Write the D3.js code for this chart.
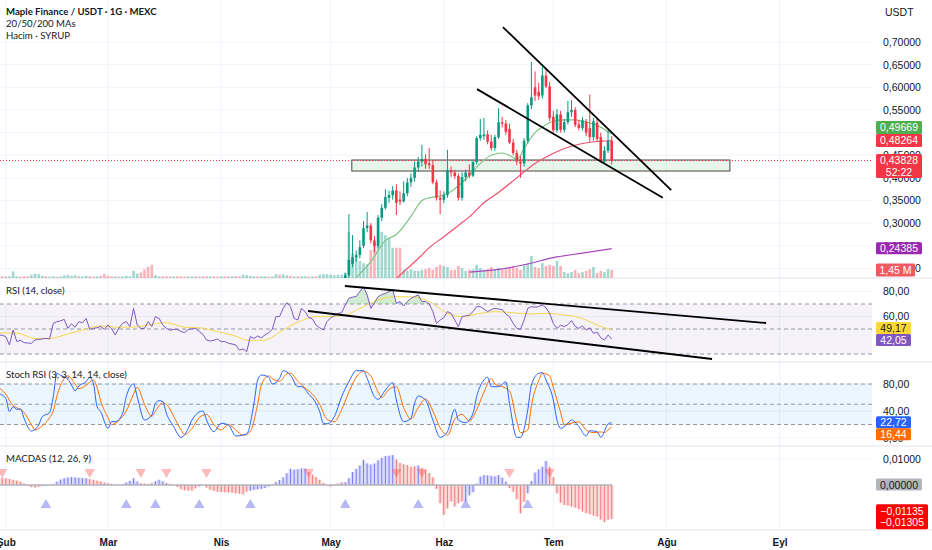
<!DOCTYPE html>
<html>
<head>
<meta charset="utf-8">
<script src="https://cdn.jsdelivr.net/npm/d3@7"></script>
<style>
  body { margin: 0; background: #fff; }
  svg { display: block; font-family: Lato, "Liberation Sans", sans-serif; }
</style>
</head>
<body>
<svg id="chart" width="932" height="550"></svg>
<script>
// Dias contados a partir de 1 Şubat 2025
var firstDay = Date.UTC(2025, 1, 1);

// Velas diárias, a partir do dia 93 (5 May)
var candleStart = 93;
var candleOpen  = [0.170,0.185,0.210,0.225,0.230,0.250,0.289,0.295,0.262,0.250,0.312,0.334,0.356,0.362,0.372,0.352,0.348,0.366,0.390,0.400,
                   0.423,0.436,0.442,0.432,0.428,0.390,0.356,0.352,0.362,0.417,0.412,0.404,0.356,0.402,0.412,0.405,0.435,0.488,0.492,0.496,
                   0.480,0.466,0.490,0.523,0.520,0.508,0.478,0.455,0.436,0.432,0.482,0.560,0.600,0.590,0.582,0.626,0.602,0.535,0.505,0.540,
                   0.506,0.523,0.545,0.550,0.518,0.510,0.524,0.510,0.490,0.522,0.490,0.436,0.460,0.482];
var candleHigh  = [0.190,0.320,0.274,0.240,0.262,0.305,0.325,0.300,0.272,0.318,0.342,0.375,0.372,0.382,0.386,0.370,0.392,0.400,0.410,0.436,
                   0.446,0.473,0.452,0.466,0.440,0.396,0.372,0.370,0.462,0.425,0.418,0.410,0.412,0.418,0.430,0.440,0.492,0.530,0.532,0.505,
                   0.495,0.495,0.554,0.535,0.528,0.520,0.486,0.462,0.448,0.488,0.565,0.656,0.635,0.610,0.645,0.640,0.612,0.548,0.552,0.548,
                   0.530,0.570,0.572,0.556,0.528,0.534,0.530,0.584,0.532,0.530,0.500,0.470,0.505,0.492];
var candleLow   = [0.165,0.180,0.203,0.215,0.222,0.245,0.280,0.255,0.235,0.245,0.305,0.330,0.345,0.352,0.318,0.340,0.346,0.360,0.380,0.392,
                   0.414,0.425,0.420,0.420,0.386,0.350,0.320,0.344,0.356,0.402,0.398,0.350,0.350,0.392,0.400,0.402,0.430,0.482,0.484,0.474,
                   0.460,0.460,0.486,0.512,0.495,0.475,0.450,0.428,0.400,0.425,0.476,0.552,0.570,0.572,0.575,0.598,0.525,0.500,0.500,0.500,
                   0.500,0.518,0.535,0.512,0.505,0.505,0.492,0.480,0.482,0.480,0.434,0.432,0.455,0.430];
var candleClose = [0.185,0.219,0.225,0.230,0.247,0.289,0.295,0.262,0.250,0.312,0.334,0.358,0.362,0.372,0.345,0.348,0.366,0.390,0.400,0.423,
                   0.436,0.442,0.430,0.428,0.390,0.356,0.352,0.362,0.417,0.412,0.404,0.356,0.402,0.412,0.405,0.435,0.488,0.495,0.496,0.480,
                   0.466,0.490,0.523,0.520,0.502,0.478,0.455,0.436,0.432,0.482,0.560,0.578,0.582,0.580,0.626,0.602,0.532,0.505,0.540,0.506,
                   0.523,0.545,0.550,0.517,0.510,0.527,0.500,0.490,0.525,0.486,0.436,0.460,0.482,0.438];

// Volume (milhões), do dia -1 até o dia 166
var volumeStart = -1;
var volume = [0.3,0.25,0.3,1.2,0.3,0.25,0.3,0.3,0.6,0.8, 0.7,0.4,0.3,0.25,0.3,0.2,0.3,0.5,0.6,0.4,
              0.5,0.3,0.3,0.4,0.3,0.25,0.3,0.4,0.7,0.4, 0.3,0.3,0.25,0.3,0.4,0.3,1.3,0.8,1.0,1.6,
              2.0,2.4,0.5,0.3,0.3,0.3,0.25,0.3,0.3,0.3, 0.25,0.3,0.3,0.3,0.25,0.3,0.3,0.3,0.3,0.25,
              0.3,0.3,0.3,0.3,0.35,0.3,0.6,0.5,0.4,0.3, 0.3,0.3,0.3,0.25,0.3,0.7,0.6,0.7,0.5,0.4,
              0.3,0.3,0.3,0.3,0.25,0.3,0.3,0.6,0.7,0.7, 0.6,0.5,0.6,0.6,
              1.0,8.4,4.5,4.0,3.1,2.7,2.5,5.1,6.4,8.7, 8.4,7.8,7.3,5.5,5.5,5.5,1.5,1.3,1.6,1.3,
              1.3,1.5,1.6,1.8,1.5,2.0,2.4,2.2,2.0,1.5, 1.5,2.2,1.8,1.3,1.5,1.6,2.4,1.8,1.5,1.6,
              2.0,1.5,1.8,1.5,1.6,2.0,2.2,1.8,1.5,2.5, 2.7,4.0,2.0,1.8,2.7,2.2,2.4,2.2,3.1,2.2,
              1.1,0.9,1.1,1.5,0.9,1.1,1.3,1.6,2.0,0.9, 1.3,1.1,1.6,1.45];
// Direção do volume antes das velas visíveis (1 = alta)
var volumeUpEarly = [0,0,1,1,1,0,0,0,1,1, 1,1,0,1,1,0,1,1,1,1, 1,0,1,1,0,0,1,0,0,0,
                     0,1,0,1,1,1,1,1,0,0, 0,0,1,1,0,0,0,1,0,0, 0,1,1,0,1,0,0,1,0,0,
                     1,0,0,1,0,0,1,1,1,1, 0,1,1,0,1,1,0,1,1,0, 1,0,1,1,0,1,0,1,1,1,
                     1,1,1,1];

// Médias móveis [dia, preço]
var ma20  = [[96,0.18],[100,0.215],[104,0.262],[107,0.275],[111,0.315],[114,0.35],[116,0.356],[119,0.36],[122,0.37],[125,0.39],
             [127,0.405],[130,0.432],[133,0.45],[136,0.455],[139,0.445],[140,0.44],[142,0.465],[145,0.50],[147,0.512],[150,0.525],
             [153,0.528],[156,0.528],[159,0.523],[162,0.516],[164,0.507],[166,0.4967]];
var ma50  = [[107,0.178],[110,0.2],[113,0.222],[116,0.246],[120,0.27],[124,0.295],[127,0.314],[131,0.345],[135,0.368],[140,0.40],
             [145,0.432],[149,0.45],[153,0.465],[158,0.476],[163,0.481],[166,0.4826]];
var ma200 = [[127,0.192],[135,0.198],[143,0.210],[150,0.224],[158,0.234],[166,0.2439]];

// RSI e sua média [dia, valor]
var rsi = [[-2,45.2],[-1,45],[0,43.9],[1,37.2],[2,49.2],[3,40],[4,41],[5,39.1],[6,38.8],[7,38.5],[8,41.2],[9,41.7],[10,42],[11,42.5],[12,42],
           [13,54.5],[14,55.9],[15,56.5],[16,57.7],[17,50.5],[18,54.1],[19,51.4],[20,55.9],[21,55],[22,58.5],[23,49.7],[24,50.5],[25,51],
           [26,52],[27,49.7],[28,53.2],[29,50],[30,45.2],[31,51],[32,54.5],[33,55.9],[34,52],[35,66.5],[36,53.2],[37,50.5],[38,50.5],
           [39,55.9],[40,52],[41,59.9],[42,58.5],[43,53.2],[44,50.5],[45,49],[46,49.7],[47,49.7],[48,48],[49,47.1],[50,49.7],[51,50],
           [52,50.5],[53,48],[54,45.7],[55,41.2],[56,40.4],[57,41],[58,42],[59,39.9],[60,40],[61,38.5],[62,38],[63,37.2],[64,33.2],
           [65,34],[66,31.9],[67,43.9],[68,42.5],[69,44.4],[70,43],[71,45.2],[72,47],[73,49.7],[74,59.9],[75,60],[76,66.5],[77,71.1],
           [78,67.9],[79,58.5],[80,57.2],[81,66.5],[82,63.9],[83,59.3],[84,58],[85,53.2],[86,51],[87,49.2],[88,55.9],[89,59],[90,60.5],
           [91,62.5],[92,63],[93,69.2],[94,74.5],[95,75.5],[96,76],[97,80],[98,83.9],[99,77.2],[100,66.5],[101,71],[102,75.9],[103,77.5],
           [104,78.5],[105,79.9],[106,81.2],[107,70.5],[108,72],[109,68.4],[110,72],[111,74.5],[112,76],[113,77.2],[114,71.9],[115,72],
           [116,70],[117,63.9],[118,54.5],[119,57.2],[120,59],[121,63.9],[122,62.5],[123,57.2],[124,51.9],[125,59.9],[126,60.5],[127,61.2],
           [128,63.9],[129,67.9],[130,67.9],[131,66],[132,63.9],[133,65.5],[134,66.5],[135,66],[136,65.5],[137,62],[138,59.9],[139,54.5],
           [140,50.5],[141,49.7],[142,57.2],[143,66.5],[144,67.9],[145,67.5],[146,67.9],[147,69.2],[148,67],[149,62.5],[150,54.5],[151,50.5],
           [152,53],[153,51.9],[154,53.5],[155,56.7],[156,52],[157,50.5],[158,52.5],[159,49.2],[160,51],[161,46.5],[162,47.5],[163,43],
           [164,41.2],[165,45.2],[166,42.05]];
var rsiMa = [[-2,46.8],[3,46.8],[8,42.5],[12,42.5],[17,46],[21,49.2],[26,52.4],[30,51.5],[35,51.5],[39,53.2],[44,55.1],[49,51.4],
             [53,51],[58,47.9],[62,45.2],[67,40.7],[71,41.2],[76,49.2],[81,56.7],[85,59.9],[89,60],[93,61.2],[98,67.9],[102,73.2],
             [107,75.9],[112,75.5],[116,71.9],[121,62.5],[125,59.9],[130,62.5],[134,63.9],[139,63],[144,62],[148,62.5],[153,61.2],
             [157,59.3],[162,53.2],[166,49.17]];

// Stoch RSI %K e %D [dia, valor]
var stochK = [[-2,66],[0,58.8],[1,39],[2,46.4],[3,42.5],[4,43],[5,29],[7,10.4],[9,19.3],[10,31.6],[12,37.6],[13,61.2],[14,95.8],[15,93],
              [17,87],[18,78.5],[19,70],[20,77],[22,83.4],[23,89.9],[24,81],[25,46.4],[26,39],[28,14.3],[29,24.2],[30,24.2],[32,36.6],
              [33,61.2],[35,80],[36,61.2],[38,26.7],[40,34],[41,51.4],[42,55.3],[43,54],[44,36.6],[46,16.8],[48,1],[50,14.3],[51,26.7],
              [54,40],[55,26.7],[57,9.4],[59,21.8],[61,19.3],[63,3],[66,6],[68,51.4],[69,86],[70,93.3],[72,90],[73,80],[75,88.4],
              [76,99.7],[78,93],[80,76],[81,76],[83,65],[85,51.4],[86,39],[87,21.8],[88,21],[90,31.6],[92,61.2],[94,83.4],[96,99.7],
              [98,99.7],[99,88.4],[101,61.2],[102,57.3],[104,71.1],[106,82],[107,56.3],[109,24.2],[111,29.1],[112,51.4],[113,62.2],
              [115,56],[117,26.7],[119,1],[121,9.4],[123,42.5],[124,26.7],[126,22.7],[128,36.6],[129,61.2],[131,86],[132,90],[133,76],
              [135,76],[137,83.4],[138,51.4],[140,1],[141,1],[143,41.5],[144,78.5],[146,95.8],[147,96.7],[148,86],[150,56.3],[151,26.7],
              [152,14.3],[154,21.8],[155,26.7],[157,16.8],[159,3],[160,10.8],[162,9.4],[163,1],[165,20.7],[166,22.72]];
var stochD = [[-2,75],[0,65],[2,48],[3,45],[5,38],[7,20],[8,12],[10,18],[12,30],[13,40],[14,62],[16,88],[17,92],[19,80],[20,73],
              [22,78],[24,86],[25,75],[26,55],[28,30],[29,20],[31,26],[33,40],[35,65],[36,75],[38,50],[40,32],[41,40],[43,52],[44,50],
              [46,32],[48,12],[49,5],[51,14],[53,30],[55,35],[57,20],[59,12],[61,20],[63,12],[65,4],[67,10],[69,50],[70,78],[72,92],
              [73,88],[75,84],[77,95],[78,96],[80,84],[82,74],[84,65],[86,50],[88,28],[90,24],[92,42],[94,68],[96,90],[98,99],[100,92],
              [102,68],[103,60],[105,72],[107,76],[109,45],[111,28],[113,45],[115,58],[117,40],[119,15],[121,4],[123,28],[125,35],
              [127,25],[129,42],[131,68],[133,88],[134,80],[136,76],[138,70],[140,25],[141,8],[143,12],[144,48],[146,85],[147,96],
              [149,92],[150,75],[152,38],[153,20],[155,22],[157,24],[159,12],[161,8],[163,9],[164,8],[165,12],[166,16.44]];

// MACDAS histograma diário, do dia -1 até o dia 166
var macdasStart = -1;
var macdas = [0.0028,0.0026,0.0023,0.0020,0.0017,0.0013,0.0006,-0.0003,-0.0008,-0.0010,
              -0.0007,-0.0005,-0.0003,-0.0001,0.0003,0.0013,0.0021,0.0026,0.0029,0.0030,
              0.0029,0.0028,0.0027,0.0026,0.0023,0.0020,0.0017,0.0014,0.0010,0.0007,
              0.0004,0.0001,-0.0001,0.0004,0.0010,0.0016,0.0026,0.0014,0.0007,0.0005,
              0.0004,0.0008,0.0015,0.0020,0.0014,0.0008,0.0004,0.0000,-0.0008,-0.0016,
              -0.0020,-0.0022,-0.0021,-0.0013,-0.0006,0.0000,-0.0010,-0.0018,-0.0023,-0.0026,
              -0.0027,-0.0028,-0.0029,-0.0030,-0.0032,-0.0034,-0.0036,-0.0026,-0.0022,-0.0019,
              -0.0017,-0.0015,-0.0012,-0.0006,0.0003,0.0012,0.0019,0.0030,0.0045,0.0062,
              0.0059,0.0061,0.0064,0.0063,0.0050,0.0040,0.0031,0.0020,0.0008,-0.0002,
              -0.0006,0.0002,0.0006,0.0010,0.0011,0.0026,0.0050,0.0062,0.0075,0.0096,
              0.0083,0.0079,0.0083,0.0095,0.0104,0.0111,0.0113,0.0115,0.0098,0.0085,
              0.0080,0.0077,0.0070,0.0072,0.0075,0.0066,0.0058,0.0046,0.0030,-0.0015,
              -0.0070,-0.0115,-0.0090,-0.0064,-0.0083,-0.0070,-0.0064,-0.0062,-0.0040,-0.0028,
              0.0005,0.0032,0.0038,0.0037,0.0035,0.0033,0.0038,0.0028,0.0013,-0.0012,
              -0.0026,-0.0055,-0.0109,-0.0065,-0.0032,0.0015,0.0048,0.0060,0.0070,0.0092,
              0.0070,0.0030,-0.0032,-0.0068,-0.0077,-0.0079,-0.0083,-0.0087,-0.0093,-0.0102,
              -0.0108,-0.0113,-0.0118,-0.0122,-0.0133,-0.0143,-0.0134,-0.01305];
var macdasSell = [-1, 23, 37, 44, 55, 83, 107, 114, 138, 149];
var macdasBuy  = [11, 33, 41, 53, 67, 93, 113, 126, 143];

// Desenhos do usuário [dia, valor]
var priceLines = [[[136.2, 0.733], [182.3, 0.373]], [[129.1, 0.596], [180.0, 0.356]]];
var zoneDays = [94.8, 198.4];
var zonePrices = [0.4152, 0.4395];
var rsiLines = [[[92.9, 84.4], [208.3, 54.8]], [[82.8, 64.4], [193.5, 26.0]]];

// Rótulos e valores do eixo
var monthNames = ["Oca", "Şub", "Mar", "Nis", "May", "Haz", "Tem", "Ağu", "Eyl", "Eki", "Kas", "Ara"];
var priceTicks = [0.20, 0.25, 0.30, 0.35, 0.40, 0.45, 0.50, 0.55, 0.60, 0.65, 0.70];
var rsiTicks = [80, 60];
var stochTicks = [80, 40, 0];
var macdTicks = [0.01];
var lastPrice = 0.43828, countdown = "52:22";
var lastMa20 = 0.49669, lastMa50 = 0.48264, lastMa200 = 0.24385, lastVolume = 1.45;
var lastRsiMa = 49.17, lastRsi = 42.05, lastK = 22.72, lastD = 16.44;
var lastMacdas = -0.01305, lastSignal = -0.01135;

// ---------------------------------------------------------------

var svg = d3.select("#chart");
var plotRight = 872;
var tr = d3.formatLocale({ decimal: ",", thousands: ".", grouping: [3], currency: ["", ""], minus: "\u2212" });
var f5 = tr.format(".5f"), f2 = tr.format(".2f");

function dayDate(d) { return new Date(firstDay + d * 864e5); }

var x = d3.scaleUtc().domain([dayDate(0), dayDate(212)]).range([5.8, 5.8 + 212 * 3.65]);
var xd = function (d) { return x(dayDate(d)); };

var yPrice = d3.scaleLinear().domain([0.20, 0.70]).range([268.5, 42]);
var yVol = d3.scaleLinear().domain([0, 10]).range([278, 223]);
var yRsi = d3.scaleLinear().domain([30, 70]).range([354, 304]);
var yStoch = d3.scaleLinear().domain([20, 80]).range([424.5, 384]);
var yMacd = d3.scaleLinear().domain([-0.01, 0.01]).range([511, 459]);

var panes = [
  { id: "p-price", top: 0, bottom: 278 },
  { id: "p-rsi", top: 278, bottom: 362 },
  { id: "p-stoch", top: 362, bottom: 446 },
  { id: "p-macd", top: 446, bottom: 530 }
];

var defs = svg.append("defs");
panes.forEach(function (p) {
  defs.append("clipPath").attr("id", p.id)
    .append("rect").attr("x", 0).attr("y", p.top).attr("width", plotRight).attr("height", p.bottom - p.top);
});

// Grade vertical dos meses
var months = x.ticks(d3.utcMonth.every(1));
svg.append("g").selectAll("line").data(months).enter().append("line")
  .attr("x1", function (m) { return x(m); }).attr("x2", function (m) { return x(m); })
  .attr("y1", 0).attr("y2", 530).attr("stroke", "#f0f3fa");

// Grade horizontal
function hGrid(ticks, scale, clip) {
  svg.append("g").attr("clip-path", "url(#" + clip + ")").selectAll("line").data(ticks).enter().append("line")
    .attr("x1", 0).attr("x2", plotRight)
    .attr("y1", function (t) { return scale(t); }).attr("y2", function (t) { return scale(t); })
    .attr("stroke", "#f0f3fa");
}
hGrid(priceTicks, yPrice, "p-price");
hGrid(rsiTicks, yRsi, "p-rsi");
hGrid(stochTicks, yStoch, "p-stoch");
hGrid(macdTicks, yMacd, "p-macd");

// Separadores dos painéis
svg.append("g").selectAll("line").data([278, 362, 446, 530]).enter().append("line")
  .attr("x1", 0).attr("x2", 932).attr("y1", function (d) { return d; }).attr("y2", function (d) { return d; })
  .attr("stroke", "#e0e3eb");

// ---------- Painel de preço ----------
var gp = svg.append("g").attr("clip-path", "url(#p-price)");

// Volume
var volData = volume.map(function (v, i) {
  var d = volumeStart + i, up;
  if (d < candleStart) up = volumeUpEarly[i] === 1;
  else { var c = d - candleStart; up = candleClose[c] >= candleOpen[c]; }
  return { d: d, v: v, up: up };
});
gp.append("g").selectAll("rect").data(volData).enter().append("rect")
  .attr("x", function (o) { return xd(o.d) - 1.3; })
  .attr("width", 2.6)
  .attr("y", function (o) { return yVol(o.v); })
  .attr("height", function (o) { return yVol(0) - yVol(o.v); })
  .attr("fill", function (o) { return o.up ? "rgba(8,153,129,0.38)" : "rgba(242,54,69,0.38)"; });

// Zona retangular
gp.append("rect")
  .attr("x", xd(zoneDays[0])).attr("width", xd(zoneDays[1]) - xd(zoneDays[0]))
  .attr("y", yPrice(zonePrices[1])).attr("height", yPrice(zonePrices[0]) - yPrice(zonePrices[1]))
  .attr("fill", "rgba(76,175,80,0.12)").attr("stroke", "#4e4444").attr("stroke-width", 1);

// Linha do último preço
gp.append("line").attr("x1", 0).attr("x2", plotRight)
  .attr("y1", yPrice(lastPrice)).attr("y2", yPrice(lastPrice))
  .attr("stroke", "#f23645").attr("stroke-dasharray", "1,2");

// Médias móveis
var maLine = d3.line().x(function (p) { return xd(p[0]); }).y(function (p) { return yPrice(p[1]); }).curve(d3.curveMonotoneX);
gp.append("path").datum(ma200).attr("d", maLine).attr("fill", "none").attr("stroke", "#ab47bc").attr("stroke-width", 1.2);
gp.append("path").datum(ma50).attr("d", maLine).attr("fill", "none").attr("stroke", "#f0506e").attr("stroke-width", 1.2);
gp.append("path").datum(ma20).attr("d", maLine).attr("fill", "none").attr("stroke", "#7cc47f").attr("stroke-width", 1.2);

// Velas
var candles = candleOpen.map(function (o, i) {
  return { d: candleStart + i, o: o, h: candleHigh[i], l: candleLow[i], c: candleClose[i] };
});
var gc = gp.append("g").selectAll("g").data(candles).enter().append("g");
gc.append("line")
  .attr("x1", function (k) { return xd(k.d); }).attr("x2", function (k) { return xd(k.d); })
  .attr("y1", function (k) { return yPrice(k.h); }).attr("y2", function (k) { return yPrice(k.l); })
  .attr("stroke", function (k) { return k.c >= k.o ? "#089981" : "#f23645"; });
gc.append("rect")
  .attr("x", function (k) { return xd(k.d) - 1.3; }).attr("width", 2.6)
  .attr("y", function (k) { return yPrice(Math.max(k.o, k.c)); })
  .attr("height", function (k) { return Math.max(1, Math.abs(yPrice(k.o) - yPrice(k.c))); })
  .attr("fill", function (k) { return k.c >= k.o ? "#089981" : "#f23645"; });

// Linhas de tendência
var segLine = function (scale) {
  return d3.line().x(function (p) { return xd(p[0]); }).y(function (p) { return scale(p[1]); });
};
gp.append("g").selectAll("path").data(priceLines).enter().append("path")
  .attr("d", segLine(yPrice)).attr("stroke", "#000").attr("stroke-width", 1.8).attr("fill", "none");

// ---------- RSI ----------
var gr = svg.append("g").attr("clip-path", "url(#p-rsi)");
gr.append("rect").attr("x", 0).attr("width", plotRight)
  .attr("y", yRsi(70)).attr("height", yRsi(30) - yRsi(70)).attr("fill", "rgba(126,87,194,0.08)");
gr.append("g").selectAll("line").data([70, 50, 30]).enter().append("line")
  .attr("x1", 0).attr("x2", plotRight).attr("y1", yRsi).attr("y2", yRsi)
  .attr("stroke", "#9598a1").attr("stroke-dasharray", "4,3");
gr.append("path").datum(rsi)
  .attr("d", d3.area().x(function (p) { return xd(p[0]); }).y0(yRsi(70)).y1(function (p) { return yRsi(Math.max(70, p[1])); }))
  .attr("fill", "rgba(76,175,80,0.25)");
gr.append("path").datum(rsiMa).attr("d", d3.line().x(function (p) { return xd(p[0]); }).y(function (p) { return yRsi(p[1]); }).curve(d3.curveMonotoneX))
  .attr("fill", "none").attr("stroke", "#f5d84a").attr("stroke-width", 1);
gr.append("path").datum(rsi).attr("d", segLine(yRsi))
  .attr("fill", "none").attr("stroke", "#7e57c2").attr("stroke-width", 1);
gr.append("g").selectAll("path").data(rsiLines).enter().append("path")
  .attr("d", segLine(yRsi)).attr("stroke", "#000").attr("stroke-width", 1.8).attr("fill", "none");

// ---------- Stoch RSI ----------
var gs = svg.append("g").attr("clip-path", "url(#p-stoch)");
gs.append("rect").attr("x", 0).attr("width", plotRight)
  .attr("y", yStoch(80)).attr("height", yStoch(20) - yStoch(80)).attr("fill", "rgba(33,150,243,0.09)");
gs.append("g").selectAll("line").data([80, 50, 20]).enter().append("line")
  .attr("x1", 0).attr("x2", plotRight).attr("y1", yStoch).attr("y2", yStoch)
  .attr("stroke", "#9598a1").attr("stroke-dasharray", "4,3");
var stochLine = d3.line().x(function (p) { return xd(p[0]); }).y(function (p) { return yStoch(p[1]); }).curve(d3.curveMonotoneX);
gs.append("path").datum(stochD).attr("d", stochLine).attr("fill", "none").attr("stroke", "#ff6d00").attr("stroke-width", 1);
gs.append("path").datum(stochK).attr("d", stochLine).attr("fill", "none").attr("stroke", "#2962ff").attr("stroke-width", 1);

// ---------- MACDAS ----------
var gm = svg.append("g").attr("clip-path", "url(#p-macd)");
var signals = macdasSell.map(function (d) { return { d: d, buy: false }; })
  .concat(macdasBuy.map(function (d) { return { d: d, buy: true }; }))
  .sort(function (a, b) { return a.d - b.d; });
function isBuyPhase(d) {
  var buy = false;
  signals.forEach(function (s) { if (s.d <= d) buy = s.buy; });
  return buy;
}
var bars = macdas.map(function (v, i) {
  var d = macdasStart + i;
  return { d: d, v: v, col: isBuyPhase(d) ? "#5b5bf0" : "#f25757" };
});
gm.append("g").selectAll("rect").data(bars).enter().append("rect")
  .attr("x", function (b) { return xd(b.d) - 1.83; }).attr("width", 3.66)
  .attr("y", function (b) { return yMacd(Math.max(0, b.v)); })
  .attr("height", function (b) { return Math.abs(yMacd(b.v) - yMacd(0)); })
  .attr("fill", function (b) { return b.col; }).attr("fill-opacity", 0.22);
gm.append("g").selectAll("line").data(bars).enter().append("line")
  .attr("x1", function (b) { return xd(b.d); }).attr("x2", function (b) { return xd(b.d); })
  .attr("y1", yMacd(0)).attr("y2", function (b) { return yMacd(b.v); })
  .attr("stroke", function (b) { return b.col; }).attr("stroke-opacity", 0.75);
gm.append("line").attr("x1", 0).attr("x2", 612).attr("y1", yMacd(0)).attr("y2", yMacd(0))
  .attr("stroke", "#b2b5be").attr("stroke-width", 1.5);
var tri = d3.symbol().type(d3.symbolTriangle).size(48);
gm.append("g").selectAll("path").data(signals).enter().append("path")
  .attr("d", tri)
  .attr("transform", function (s) {
    return s.buy ? "translate(" + xd(s.d) + ",505)" : "translate(" + xd(s.d) + ",472) rotate(180)";
  })
  .attr("fill", function (s) { return s.buy ? "rgba(98,98,230,0.45)" : "rgba(255,82,82,0.4)"; });

// ---------- Eixos ----------
function rightAxis(scale, ticks, fmt) {
  var g = svg.append("g").attr("transform", "translate(876,0)")
    .call(d3.axisRight(scale).tickValues(ticks).tickSize(0).tickPadding(7).tickFormat(fmt));
  g.select(".domain").remove();
  g.selectAll("text").attr("font-size", 10.5).attr("fill", "#131722")
    .attr("font-family", "'Liberation Sans', sans-serif");
}
rightAxis(yPrice, priceTicks, f5);
rightAxis(yRsi, rsiTicks, f2);
rightAxis(yStoch, stochTicks, f2);
rightAxis(yMacd, macdTicks, f5);

var xAxis = svg.append("g").attr("transform", "translate(0,530)")
  .call(d3.axisBottom(x).tickValues(months).tickSize(0).tickPadding(9)
    .tickFormat(function (m) { return monthNames[m.getUTCMonth()]; }));
xAxis.select(".domain").remove();
xAxis.selectAll("text").attr("font-size", 10).attr("font-weight", 700).attr("fill", "#131722");

// ---------- Etiquetas do eixo direito ----------
function spread(tags) {
  tags.sort(function (a, b) { return a.y - b.y; });
  for (var k = 0; k < 4; k++) {
    for (var i = 1; i < tags.length; i++) {
      var a = tags[i - 1], b = tags[i];
      var over = (a.y + a.h - 6.5) - (b.y - 6.5);
      if (over <= 0) continue;
      if (a.pin) b.y += over;
      else if (b.pin) a.y -= over;
      else { a.y -= over / 2; b.y += over / 2; }
    }
  }
  return tags;
}
function drawTags(tags) {
  spread(tags).forEach(function (t) {
    svg.append("rect").attr("x", 876).attr("y", t.y - 6.5).attr("width", t.w).attr("height", t.h)
      .attr("rx", 1.5).attr("fill", t.bg);
    t.lines.forEach(function (s, j) {
      svg.append("text").attr("x", 876 + t.w / 2).attr("y", t.y + 3.8 + j * 11.5)
        .attr("text-anchor", "middle").attr("font-size", 10.5).attr("fill", t.fg)
        .attr("font-family", "'Liberation Sans', sans-serif").text(s);
    });
  });
}
drawTags([
  { y: yPrice(lastMa20), h: 13, w: 46, bg: "#4caf50", fg: "#fff", lines: [f5(lastMa20)] },
  { y: yPrice(lastMa50), h: 13, w: 46, bg: "#f23645", fg: "#fff", lines: [f5(lastMa50)], pin: true },
  { y: yPrice(lastPrice), h: 24, w: 46, bg: "#f23645", fg: "#fff", lines: [f5(lastPrice), countdown], pin: true }
]);
drawTags([{ y: yPrice(lastMa200), h: 12, w: 46, bg: "#9c27b0", fg: "#fff", lines: [f5(lastMa200)] }]);
drawTags([{ y: Math.min(yVol(lastVolume), 272.5), h: 13, w: 39, bg: "#f05a5f", fg: "#fff", lines: [tr.format(".2f")(lastVolume) + " M"] }]);
drawTags([
  { y: yRsi(lastRsiMa), h: 12, w: 35, bg: "#fdd835", fg: "#131722", lines: [f2(lastRsiMa)] },
  { y: yRsi(lastRsi), h: 12, w: 35, bg: "#7e57c2", fg: "#fff", lines: [f2(lastRsi)] }
]);
drawTags([
  { y: yStoch(lastK), h: 12, w: 35, bg: "#2962ff", fg: "#fff", lines: [f2(lastK)], pin: true },
  { y: yStoch(lastD), h: 12, w: 35, bg: "#ff6d00", fg: "#fff", lines: [f2(lastD)] }
]);
drawTags([{ y: yMacd(0), h: 12, w: 46, bg: "#b2b5be", fg: "#131722", lines: [f5(0)] }]);
drawTags([{ y: (yMacd(lastSignal) + yMacd(lastMacdas)) / 2 - 6, h: 25, w: 52, bg: "#ff0000", fg: "#fff",
            lines: [f5(lastSignal), f5(lastMacdas)] }]);

svg.append("text").attr("x", 885).attr("y", 16).attr("font-size", 10.5).attr("fill", "#131722")
  .attr("font-family", "'Liberation Sans', sans-serif").text("USDT");

// ---------- Legendas ----------
var legend = [
  { t: "Maple Finance / USDT · 1G · MEXC", y: 15, w: 700 },
  { t: "20/50/200 MAs", y: 27, w: 400 },
  { t: "Hacim · SYRUP", y: 39, w: 400 },
  { t: "RSI (14, close)", y: 294, w: 400 },
  { t: "Stoch RSI (3, 3, 14, 14, close)", y: 378, w: 400 },
  { t: "MACDAS (12, 26, 9)", y: 462, w: 400 }
];
svg.append("g").selectAll("text").data(legend).enter().append("text")
  .attr("x", 6).attr("y", function (l) { return l.y; })
  .attr("font-size", 9.6).attr("font-weight", function (l) { return l.w; })
  .attr("fill", "#131722").text(function (l) { return l.t; });
</script>
</body>
</html>
